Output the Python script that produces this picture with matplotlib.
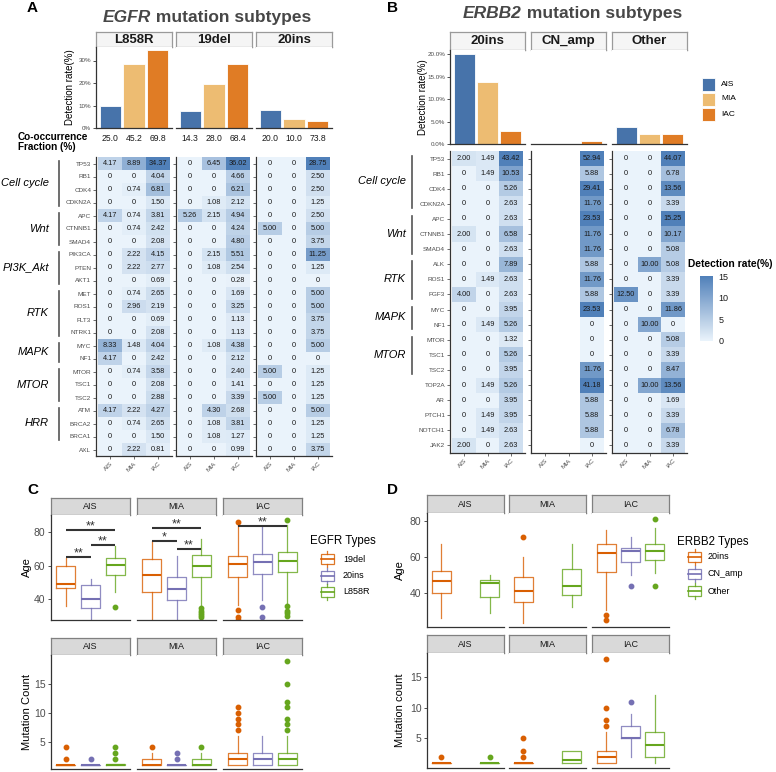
import numpy as np
import matplotlib
matplotlib.use('Agg')
import matplotlib.pyplot as plt
from matplotlib.colors import LinearSegmentedColormap
from matplotlib.patches import Rectangle
import matplotlib.cm as cm
import matplotlib.colors as mcolors

plt.rcParams['font.family'] = ['Liberation Sans', 'DejaVu Sans']

stages = ['AIS', 'MIA', 'IAC']
stage_colors = ['#4773AA', '#EDBC72', '#E07C25']

# ---- A: EGFR subtypes
egfr_types = ['L858R', '19del', '20ins']
egfr_rate = [[9.7, 28.4, 34.6], [7.6, 19.4, 28.3], [8.0, 4.0, 3.0]]
egfr_cooc = [[25.0, 45.2, 69.8], [14.3, 28.0, 68.4], [20.0, 10.0, 73.8]]
egfr_genes = ['TP53', 'RB1', 'CDK4', 'CDKN2A', 'APC', 'CTNNB1', 'SMAD4', 'PIK3CA', 'PTEN', 'AKT1',
              'MET', 'ROS1', 'FLT3', 'NTRK1', 'MYC', 'NF1', 'MTOR', 'TSC1', 'TSC2', 'ATM', 'BRCA2',
              'BRCA1', 'AXL']
egfr_L858R = [[4.17, 8.89, 34.37], [0, 0, 4.04], [0, 0.74, 6.81], [0, 0, 1.50], [4.17, 0.74, 3.81],
              [0, 0.74, 2.42], [0, 0, 2.08], [0, 2.22, 4.15], [0, 2.22, 2.77], [0, 0, 0.69],
              [0, 0.74, 2.65], [0, 2.96, 2.19], [0, 0, 0.69], [0, 0, 2.08], [8.33, 1.48, 4.04],
              [4.17, 0, 2.42], [0, 0.74, 3.58], [0, 0, 2.08], [0, 0, 2.88], [4.17, 2.22, 4.27],
              [0, 0.74, 2.65], [0, 0, 1.50], [0, 2.22, 0.81]]
egfr_19del = [[0, 6.45, 36.02], [0, 0, 4.66], [0, 0, 6.21], [0, 1.08, 2.12], [5.26, 2.15, 4.94],
              [0, 0, 4.24], [0, 0, 4.80], [0, 2.15, 5.51], [0, 1.08, 2.54], [0, 0, 0.28],
              [0, 0, 1.69], [0, 0, 3.25], [0, 0, 1.13], [0, 0, 1.13], [0, 1.08, 4.38],
              [0, 0, 2.12], [0, 0, 2.40], [0, 0, 1.41], [0, 0, 3.39], [0, 4.30, 2.68],
              [0, 1.08, 3.81], [0, 1.08, 1.27], [0, 0, 0.99]]
egfr_20ins = [[0, 0, 28.75], [0, 0, 2.50], [0, 0, 2.50], [0, 0, 1.25], [0, 0, 2.50],
              [5.00, 0, 5.00], [0, 0, 3.75], [0, 0, 11.25], [0, 0, 1.25], [0, 0, 0],
              [0, 0, 5.00], [0, 0, 5.00], [0, 0, 3.75], [0, 0, 3.75], [0, 0, 5.00],
              [0, 0, 0], [5.00, 0, 1.25], [0, 0, 1.25], [5.00, 0, 1.25], [0, 0, 5.00],
              [0, 0, 1.25], [0, 0, 1.25], [0, 0, 3.75]]
egfr_pathways = [('Cell cycle', 'TP53', 'CDKN2A'), ('Wnt', 'APC', 'SMAD4'), ('PI3K_Akt', 'PIK3CA', 'AKT1'),
                 ('RTK', 'MET', 'NTRK1'), ('MAPK', 'MYC', 'NF1'), ('MTOR', 'MTOR', 'TSC2'),
                 ('HRR', 'ATM', 'BRCA1')]

# ---- B: ERBB2 subtypes
erbb2_types = ['20ins', 'CN_amp', 'Other']
erbb2_rate = [[20.2, 13.9, 3.0], [0, 0, 0.6], [3.7, 2.2, 2.3]]
erbb2_genes = ['TP53', 'RB1', 'CDK4', 'CDKN2A', 'APC', 'CTNNB1', 'SMAD4', 'ALK', 'ROS1', 'FGF3',
               'MYC', 'NF1', 'MTOR', 'TSC1', 'TSC2', 'TOP2A', 'AR', 'PTCH1', 'NOTCH1', 'JAK2']
erbb2_20ins = [[2.00, 1.49, 43.42], [0, 1.49, 10.53], [0, 0, 5.26], [0, 0, 2.63], [0, 0, 2.63],
               [2.00, 0, 6.58], [0, 0, 2.63], [0, 0, 7.89], [0, 1.49, 2.63], [4.00, 0, 2.63],
               [0, 0, 3.95], [0, 1.49, 5.26], [0, 0, 1.32], [0, 0, 5.26], [0, 0, 3.95],
               [0, 1.49, 5.26], [0, 0, 3.95], [0, 1.49, 3.95], [0, 1.49, 2.63], [2.00, 0, 2.63]]
erbb2_cnamp_iac = [52.94, 5.88, 29.41, 11.76, 23.53, 11.76, 11.76, 5.88, 11.76, 5.88,
                   23.53, 0, 0, 0, 11.76, 41.18, 5.88, 5.88, 5.88, 0]
erbb2_other = [[0, 0, 44.07], [0, 0, 6.78], [0, 0, 13.56], [0, 0, 3.39], [0, 0, 15.25],
               [0, 0, 10.17], [0, 0, 5.08], [0, 10.00, 5.08], [0, 0, 3.39], [12.50, 0, 3.39],
               [0, 0, 11.86], [0, 10.00, 0], [0, 0, 5.08], [0, 0, 3.39], [0, 0, 8.47],
               [0, 10.00, 13.56], [0, 0, 1.69], [0, 0, 3.39], [0, 0, 6.78], [0, 0, 3.39]]
erbb2_pathways = [('Cell cycle', 'TP53', 'CDKN2A'), ('Wnt', 'APC', 'SMAD4'), ('RTK', 'ALK', 'FGF3'),
                  ('MAPK', 'MYC', 'NF1'), ('MTOR', 'MTOR', 'TSC2')]

# ---- C / D boxplots: [whislo, q1, median, q3, whishi] per type, per stage
type_colors = ['#D95F02', '#7570B3', '#66A61E']
egfr_box_types = ['19del', '20ins', 'L858R']
egfr_age = [[[36, 46.4, 49.2, 60, 64.4], [24.6, 34.6, 40, 48.6, 52.2], [44, 54.2, 60.6, 64.4, 71.6]],
            [[27, 44, 54.2, 64.2, 74.6], [25.2, 39.6, 46, 53.2, 66], [36, 53.2, 60, 66.2, 76]],
            [[36.6, 53.2, 61.2, 66, 84.6], [39.6, 55, 62.4, 67.2, 83.6], [37.6, 56, 63, 68.2, 84.6]]]
egfr_age_out = [[[], [], [35.2]],
                [[], [], [34.6, 33, 31.6, 30.2, 29]],
                [[86, 33.2, 29.2, 27.6], [35.4, 29.2], [87.2, 36, 33, 31.6, 30]]]
egfr_sig = [(0, 0, 1, 65.2, '**'), (0, 1, 2, 72.4, '**'), (0, 0, 2, 81.6, '**'),
            (1, 0, 1, 74.6, '*'), (1, 1, 2, 70, '**'), (1, 0, 2, 82.6, '**'),
            (2, 0, 2, 84, '**')]
egfr_mut = [[[1, 1, 1, 1, 1], [1, 1, 1, 1, 1], [1, 1, 1, 1.15, 1.15]],
            [[1, 1, 1, 2, 3], [1, 1, 1, 1, 1], [1, 1, 1, 2, 3]],
            [[1, 1, 2, 3, 6], [1, 1, 2, 3, 6], [1, 1, 2, 3, 6]]]
egfr_mut_out = [[[2, 4], [2], [2, 3, 4]],
                [[4], [2, 3], [4]],
                [[7, 8, 9, 10, 11], [], [7, 8, 9, 11, 12, 15, 19]]]

erbb2_box_types = ['20ins', 'CN_amp', 'Other']
erbb2_age = [[[26.2, 40, 46.7, 52.3, 67], None, [28.8, 37.8, 45.2, 47.1, 49.9]],
             [[23.3, 35, 41.1, 48.9, 59.7], None, [32.2, 38.7, 43.7, 53, 67]],
             [[30.3, 51.3, 62.3, 67, 74.6], [49.9, 57.1, 63.3, 65.1, 70.9], [51.2, 58.2, 63.3, 67, 75.9]]]
erbb2_age_out = [[[], [], []],
                 [[71.1], [], []],
                 [[27.9, 25.1], [43.9], [81.1, 43.9]]]
erbb2_mut = [[[1, 1, 1, 1, 1], None, [1, 1, 1, 1, 1]],
             [[1, 1, 1, 1, 1], None, [1, 1, 1.5, 3, 3]],
             [[1, 1, 2, 3, 6], [2, 5, 5, 7, 9], [1, 2, 4, 6, 12]]]
erbb2_mut_out = [[[2], [], [2]],
                 [[2, 3, 5], [], []],
                 [[7, 8, 10, 18], [11], []]]

W, H = 776, 772
fig = plt.figure(figsize=(W / 100, H / 100), dpi=100)

AX = '#333333'
TK = '#4d4d4d'
heat_cmap = LinearSegmentedColormap.from_list('det', ['#EAF3FB', '#5080B9'])


def px_axes(x0, y0, x1, y1):
    return fig.add_axes([x0 / W, 1 - y1 / H, (x1 - x0) / W, (y1 - y0) / H])


def strip(x0, y0, x1, y1, label, face, edge, bold, size):
    ax = px_axes(x0, y0, x1, y1)
    ax.set_xticks([])
    ax.set_yticks([])
    ax.set_facecolor(face)
    for s in ax.spines.values():
        s.set_edgecolor(edge)
        s.set_linewidth(0.9)
    ax.text(0.5, 0.48, label, ha='center', va='center', transform=ax.transAxes,
            fontweight='bold' if bold else 'normal', fontsize=size, color='#1a1a1a')


def style(ax, left):
    for s in ['top', 'right']:
        ax.spines[s].set_visible(False)
    ax.spines['bottom'].set_color(AX)
    ax.spines['bottom'].set_linewidth(0.9)
    ax.spines['left'].set_color(AX)
    ax.spines['left'].set_linewidth(0.9)
    ax.spines['left'].set_visible(left)


def fmt(v):
    return '0' if v == 0 else '%.2f' % v


def bar_facet(x0, y0, y1, fw, vals, ymax, ticks, ticklabels, first):
    ax = px_axes(x0, y0, x0 + fw, y1)
    ax.bar(range(3), vals, width=0.9, color=stage_colors, edgecolor='white', linewidth=0.6)
    ax.set_xlim(-0.6, 2.6)
    ax.set_ylim(0, ymax)
    ax.set_xticks([])
    style(ax, first)
    if first:
        ax.set_yticks(ticks)
        ax.set_yticklabels(ticklabels)
        ax.tick_params(axis='y', labelsize=4.5, labelcolor=TK, length=2, width=0.6, color=AX, pad=1.5)
    else:
        ax.set_yticks([])
    return ax


def heat_facet(x0, y0, y1, fw, vals, genes, first):
    ax = px_axes(x0, y0, x0 + fw, y1)
    v = np.array(vals, dtype=float)
    n = len(genes)
    ax.pcolormesh(np.arange(4) - 0.5, np.arange(n + 1) - 0.5, np.ma.masked_invalid(v),
                  cmap=heat_cmap, vmin=0, vmax=15, linewidth=0, antialiased=False)
    for i in range(n):
        for j in range(3):
            if not np.isnan(v[i, j]):
                ax.text(j, i, fmt(v[i, j]), ha='center', va='center', fontsize=5.3, color='#1a1a1a')
    ax.set_xlim(-0.6, 2.6)
    ax.set_ylim(n - 0.5, -0.5)
    ax.set_yticks(range(n))
    ax.set_yticklabels(genes if first else [])
    ax.set_xticks(range(3))
    ax.set_xticklabels(stages, rotation=45, ha='right', rotation_mode='anchor')
    ax.tick_params(labelsize=4.6, labelcolor=TK, length=2, width=0.5, color=AX, pad=1.5)
    style(ax, True)
    return ax


def box_facet(x0, y0, y1, fw, stats, outs, ylim, ticks, first):
    ax = px_axes(x0, y0, x0 + fw, y1)
    for j in range(3):
        if stats[j] is None:
            continue
        st = stats[j]
        c = type_colors[j]
        d = [dict(whislo=st[0], q1=st[1], med=st[2], q3=st[3], whishi=st[4], fliers=outs[j])]
        ax.bxp(d, positions=[j], widths=0.78, showcaps=False,
               boxprops=dict(color=c, alpha=0.8, linewidth=0.9),
               whiskerprops=dict(color=c, alpha=0.8, linewidth=0.9),
               medianprops=dict(color=c, linewidth=1.5),
               flierprops=dict(marker='o', markerfacecolor=c, markeredgecolor=c, markersize=3.2))
    ax.set_xlim(-0.6, 2.6)
    ax.set_ylim(*ylim)
    ax.set_xticks([])
    style(ax, first)
    if first:
        ax.set_yticks(ticks)
        ax.tick_params(axis='y', labelsize=7.5, labelcolor=TK, length=2.5, width=0.6, color=AX, pad=1.5)
    else:
        ax.set_yticks([])
    return ax


# ================= panel A =================
A_x0 = [96, 176, 256]
A_fw = 76
A_heat = [egfr_L858R, egfr_19del, egfr_20ins]
for k, t in enumerate(egfr_types):
    x0 = A_x0[k]
    strip(x0, 32, x0 + A_fw, 47, t, '#f5f5f5', '#9a9a9a', True, 9.5)
    ax = bar_facet(x0, 47, 128, A_fw, egfr_rate[k], 36, [0, 10, 20, 30],
                   ['0%', '10%', '20%', '30%'], k == 0)
    for j in range(3):
        ax.text(j, -0.125, '%.1f' % egfr_cooc[k][j], transform=ax.get_xaxis_transform(),
                ha='center', va='center', fontsize=6.2, color='#1a1a1a')
    heat_facet(x0, 157, 456, A_fw, A_heat[k], egfr_genes, k == 0)

# ================= panel B =================
B_x0 = [450, 531, 612]
B_fw = 75
B_heat = [erbb2_20ins, [[np.nan, np.nan, v] for v in erbb2_cnamp_iac], erbb2_other]
for k, t in enumerate(erbb2_types):
    x0 = B_x0[k]
    strip(x0, 32, x0 + B_fw, 50, t, '#f5f5f5', '#9a9a9a', True, 9.5)
    bar_facet(x0, 50, 144, B_fw, erbb2_rate[k], 21, [0, 5, 10, 15, 20],
              ['0.0%', '5.0%', '10.0%', '15.0%', '20.0%'], k == 0)
    heat_facet(x0, 151, 453, B_fw, B_heat[k], erbb2_genes, k == 0)

cax = px_axes(700, 276, 713, 341)
cb = fig.colorbar(cm.ScalarMappable(norm=mcolors.Normalize(0, 15), cmap=heat_cmap), cax=cax)
cb.outline.set_visible(False)
cb.set_ticks([0, 5, 10, 15])
cax.tick_params(labelsize=6.5, length=0, pad=4, labelcolor='#1a1a1a')

# ================= panel C =================
C_x0 = [51, 137, 223]
C_fw = 79
for k, s in enumerate(stages):
    x0 = C_x0[k]
    strip(x0, 498, x0 + C_fw, 515, s, '#d9d9d9', '#808080', False, 6.5)
    ax = box_facet(x0, 515, 620, C_fw, egfr_age[k], egfr_age_out[k], (27.5, 90.5), [40, 60, 80], k == 0)
    for (st, i, j, y, lab) in egfr_sig:
        if st == k:
            ax.plot([i, j], [y, y], color=AX, lw=1.5, solid_capstyle='butt')
            ax.text((i + j) / 2, y + 0.4, lab, ha='center', va='baseline', fontsize=9, color=AX)
    strip(x0, 638, x0 + C_fw, 655, s, '#d9d9d9', '#808080', False, 6.5)
    box_facet(x0, 655, 769, C_fw, egfr_mut[k], egfr_mut_out[k], (0.25, 20.1), [5, 10, 15], k == 0)

# ================= panel D =================
D_x0 = [427, 509, 592]
D_fw = 77
for k, s in enumerate(stages):
    x0 = D_x0[k]
    strip(x0, 495, x0 + D_fw, 513, s, '#d9d9d9', '#808080', False, 6.5)
    box_facet(x0, 513, 627, D_fw, erbb2_age[k], erbb2_age_out[k], (21, 84.3), [40, 60, 80], k == 0)
    strip(x0, 635, x0 + D_fw, 653, s, '#d9d9d9', '#808080', False, 6.5)
    box_facet(x0, 653, 768, D_fw, erbb2_mut[k], erbb2_mut_out[k], (0.2, 18.9), [5, 10, 15], k == 0)

# ================= overlay: labels, brackets, legends =================
ov = px_axes(0, 0, W, H)
ov.set_xlim(0, W)
ov.set_ylim(H, 0)
ov.axis('off')

for lab, x, y in [('A', 32, 8), ('B', 393, 8), ('C', 33, 490), ('D', 393, 490)]:
    ov.text(x, y, lab, ha='center', va='center', fontsize=11, fontweight='bold', color='black')

for x, y, gene in [(103, 22, 'EGFR'), (463, 18, 'ERBB2')]:
    t1 = ov.text(x, y, gene, ha='left', va='baseline', fontsize=12.5, fontweight='bold',
                 style='italic', color='#474747')
    ov.annotate(' mutation subtypes', xy=(1, 0), xycoords=t1, ha='left', va='bottom',
                fontsize=12.5, fontweight='bold', color='#474747')

ov.text(70, 87, 'Detection rate(%)', rotation=90, ha='center', va='center', fontsize=7)
ov.text(423, 97, 'Detection rate(%)', rotation=90, ha='center', va='center', fontsize=7)
ov.text(18, 142, 'Co-occurrence\nFraction (%)', ha='left', va='center', fontsize=7.2,
        fontweight='bold', linespacing=1.05)


def pathways(groups, genes, y0, y1, xline, xtext):
    rh = (y1 - y0) / len(genes)
    for name, g0, g1 in groups:
        i0, i1 = genes.index(g0), genes.index(g1)
        ya = y0 + (i0 + 0.5) * rh
        yb = y0 + (i1 + 0.5) * rh
        ov.plot([xline, xline], [ya - 0.2 * rh, yb + 0.3 * rh], color='#555555', lw=1.2)
        ov.text(xtext, (ya + yb) / 2, name, ha='right', va='center', fontsize=8.0, style='italic')


pathways(egfr_pathways, egfr_genes, 157, 456, 59, 49)
pathways(erbb2_pathways, erbb2_genes, 151, 453, 412, 406)

# bar legend (B)
for j, s in enumerate(stages):
    yc = 84 + j * 15
    ov.add_patch(Rectangle((702, yc - 6.5), 13, 13, facecolor=stage_colors[j], edgecolor='white', lw=0.6))
    ov.text(721, yc, s, ha='left', va='center', fontsize=6)
ov.text(688, 264, 'Detection rate(%)', ha='left', va='center', fontsize=7.4, fontweight='bold')


def box_legend(title, names, xt, yt, xk, ys, xl):
    ov.text(xt, yt, title, ha='left', va='center', fontsize=8.3)
    for j, nm in enumerate(names):
        c = type_colors[j]
        yc = ys[j]
        ov.add_patch(Rectangle((xk, yc - 5), 13, 10, facecolor='white', edgecolor=c, lw=0.9, alpha=0.85))
        ov.plot([xk + 6.5, xk + 6.5], [yc - 8, yc - 5], color=c, lw=0.9, alpha=0.85)
        ov.plot([xk + 6.5, xk + 6.5], [yc + 5, yc + 8], color=c, lw=0.9, alpha=0.85)
        ov.plot([xk, xk + 13], [yc, yc], color=c, lw=1.2)
        ov.text(xl, yc, nm, ha='left', va='center', fontsize=6.5)


box_legend('EGFR Types', egfr_box_types, 310, 541, 320.5, [559, 575.5, 592], 343)
box_legend('ERBB2 Types', erbb2_box_types, 677, 542, 688, [556.5, 574, 591], 708)

ov.text(27, 567, 'Age', rotation=90, ha='center', va='center', fontsize=8)
ov.text(27, 712, 'Mutation Count', rotation=90, ha='center', va='center', fontsize=8)
ov.text(400, 570, 'Age', rotation=90, ha='center', va='center', fontsize=8)
ov.text(400, 710, 'Mutation count', rotation=90, ha='center', va='center', fontsize=8)

fig.savefig('out.png', dpi=100)
